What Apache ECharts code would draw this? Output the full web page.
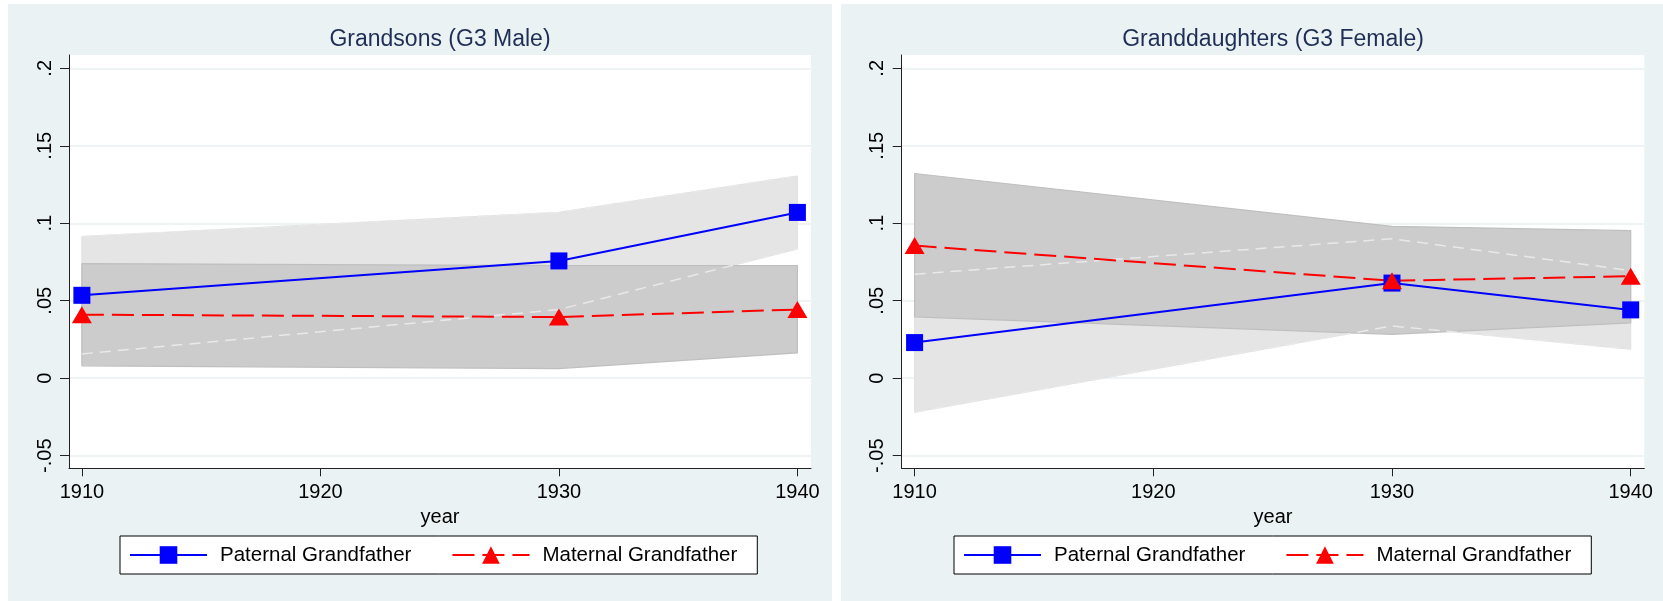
<!DOCTYPE html>
<html>
<head>
<meta charset="utf-8">
<script src="https://cdn.jsdelivr.net/npm/echarts@6/dist/echarts.min.js"></script>
<style>
  html, body { margin: 0; padding: 0; background: #ffffff; }
  body { width: 1663px; height: 601px; position: relative; overflow: hidden; }
  #p1 { position: absolute; left: 8px; top: 4px; width: 824px; height: 597px; }
  #p2 { position: absolute; left: 841px; top: 4px; width: 822px; height: 597px; }
</style>
</head>
<body>
<div id="p1"></div>
<div id="p2"></div>
<script>
// ---- data ----
const years = [1910, 1930, 1940];
const xTicks = [1910, 1920, 1930, 1940];
const xTickLabels = ['1910', '1920', '1930', '1940'];
const yTicks = [-0.05, 0, 0.05, 0.1, 0.15, 0.2];
const yTickLabels = ['-.05', '0', '.05', '.1', '.15', '.2'];
const seriesNames = ['Paternal Grandfather', 'Maternal Grandfather'];

// Grandsons (G3 Male)
const sonsPatEst = [0.0535, 0.0757, 0.1070];
const sonsPatLo  = [0.0157, 0.0443, 0.0835];
const sonsPatHi  = [0.0914, 0.1070, 0.1305];
const sonsMatEst = [0.0410, 0.0395, 0.0443];
const sonsMatLo  = [0.0080, 0.0062, 0.0163];
const sonsMatHi  = [0.0740, 0.0727, 0.0726];

// Granddaughters (G3 Female)
const daughtersPatEst = [0.0230, 0.0614, 0.0441];
const daughtersPatLo  = [-0.0219, 0.0337, 0.0188];
const daughtersPatHi  = [0.0671, 0.0900, 0.0695];
const daughtersMatEst = [0.0856, 0.0629, 0.0658];
const daughtersMatLo  = [0.0396, 0.0283, 0.0357];
const daughtersMatHi  = [0.1321, 0.0980, 0.0952];

// ---- styling ----
const FONT = 'Liberation Sans, Arial, Helvetica, sans-serif';
const AXIS_COLOR = '#222222';

function lookup(ticks, labels, v) {
  for (let i = 0; i < ticks.length; i++) if (Math.abs(ticks[i] - v) < 1e-9) return labels[i];
  return '';
}

function bandSeries(lo, hi, fill, stroke) {
  return {
    type: 'custom',
    coordinateSystem: 'cartesian2d',
    silent: true,
    data: years.map((y, i) => [y, lo[i], hi[i]]),
    encode: { x: 0, y: [1, 2] },
    renderItem: function (params, api) {
      if (params.dataIndex !== 0) return null;
      const pts = [];
      for (let i = 0; i < years.length; i++) pts.push(api.coord([years[i], hi[i]]));
      for (let i = years.length - 1; i >= 0; i--) pts.push(api.coord([years[i], lo[i]]));
      return {
        type: 'polygon',
        shape: { points: pts },
        style: { fill: fill, stroke: stroke, lineWidth: 1.2, lineJoin: 'round' }
      };
    }
  };
}

function edgeSeries(vals) {
  return {
    type: 'line',
    silent: true,
    symbol: 'none',
    data: years.map((y, i) => [y, vals[i]]),
    lineStyle: { color: '#e9e9e9', width: 1.5, type: [11, 7] },
    emphasis: { disabled: true }
  };
}

function buildOption(cfg) {
  return {
    animation: false,
    backgroundColor: '#eaf2f3',
    title: {
      text: cfg.title,
      left: cfg.titleX,
      top: 24,
      padding: 0,
      textAlign: 'center',
      textStyle: { fontFamily: FONT, fontSize: 23, fontWeight: 'normal', color: '#1e2e55' }
    },
    legend: {
      data: seriesNames,
      left: cfg.legendX,
      top: 532,
      orient: 'horizontal',
      backgroundColor: '#ffffff',
      borderColor: '#000000',
      borderWidth: 1,
      borderRadius: 0,
      padding: [8.5, 20, 8.5, 9],
      itemWidth: 77,
      itemHeight: 22,
      itemGap: 40,
      selectedMode: false,
      textStyle: { fontFamily: FONT, fontSize: 20.5, color: '#000000', padding: [0, 0, 0, 8] }
    },
    grid: {
      left: cfg.gridLeft, top: 51, width: cfg.gridWidth, height: 413.3,
      show: true, backgroundColor: '#ffffff', borderWidth: 0
    },
    xAxis: {
      type: 'value',
      min: 1909.46, max: 1940.57,
      name: 'year', nameLocation: 'middle', nameGap: 27,
      nameTextStyle: { fontFamily: FONT, fontSize: 20, color: '#000000' },
      axisLine: { show: true, onZero: false, lineStyle: { color: AXIS_COLOR, width: 1 } },
      axisTick: { show: true, length: 8, customValues: xTicks, lineStyle: { color: AXIS_COLOR, width: 1 } },
      axisLabel: {
        customValues: xTicks, fontFamily: FONT, fontSize: 20, color: '#000000', margin: 14,
        formatter: function (v) { return lookup(xTicks, xTickLabels, v); }
      },
      splitLine: { show: false }
    },
    yAxis: {
      type: 'value',
      min: -0.05813, max: 0.20858,
      axisLine: { show: true, onZero: false, lineStyle: { color: AXIS_COLOR, width: 1 } },
      axisTick: { show: true, length: 9, customValues: yTicks, lineStyle: { color: AXIS_COLOR, width: 1 } },
      axisLabel: {
        customValues: yTicks, rotate: 90, margin: 14,
        fontFamily: FONT, fontSize: 20, color: '#000000',
        formatter: function (v) { return lookup(yTicks, yTickLabels, v); }
      },
      splitLine: { show: true, lineStyle: { color: '#e8f0f2', width: 1.5 } }
    },
    series: [
      bandSeries(cfg.patLo, cfg.patHi, '#e5e5e5', '#e2e2e2'),
      bandSeries(cfg.matLo, cfg.matHi, '#cccccc', '#bfbfbf'),
      edgeSeries(cfg.patLo),
      edgeSeries(cfg.patHi),
      {
        type: 'line', name: seriesNames[0],
        data: years.map((y, i) => [y, cfg.patEst[i]]),
        symbol: 'rect', symbolSize: 17,
        itemStyle: { color: '#0000ff' },
        lineStyle: { color: '#0000ff', width: 2 },
        emphasis: { disabled: true }
      },
      {
        type: 'line', name: seriesNames[1],
        data: years.map((y, i) => [y, cfg.matEst[i]]),
        symbol: 'triangle', symbolSize: [20, 17],
        itemStyle: { color: '#ff0000' },
        lineStyle: { color: '#ff0000', width: 2, type: [22, 8] },
        emphasis: { disabled: true }
      }
    ]
  };
}

const c1 = echarts.init(document.getElementById('p1'), null, { renderer: 'canvas' });
c1.setOption(buildOption({
  title: 'Grandsons (G3 Male)', titleX: 432, legendX: 112,
  gridLeft: 61, gridWidth: 742,
  patEst: sonsPatEst, patLo: sonsPatLo, patHi: sonsPatHi,
  matEst: sonsMatEst, matLo: sonsMatLo, matHi: sonsMatHi
}));

const c2 = echarts.init(document.getElementById('p2'), null, { renderer: 'canvas' });
c2.setOption(buildOption({
  title: 'Granddaughters (G3 Female)', titleX: 432, legendX: 113,
  gridLeft: 60.7, gridWidth: 742.6,
  patEst: daughtersPatEst, patLo: daughtersPatLo, patHi: daughtersPatHi,
  matEst: daughtersMatEst, matLo: daughtersMatLo, matHi: daughtersMatHi
}));
</script>
</body>
</html>
